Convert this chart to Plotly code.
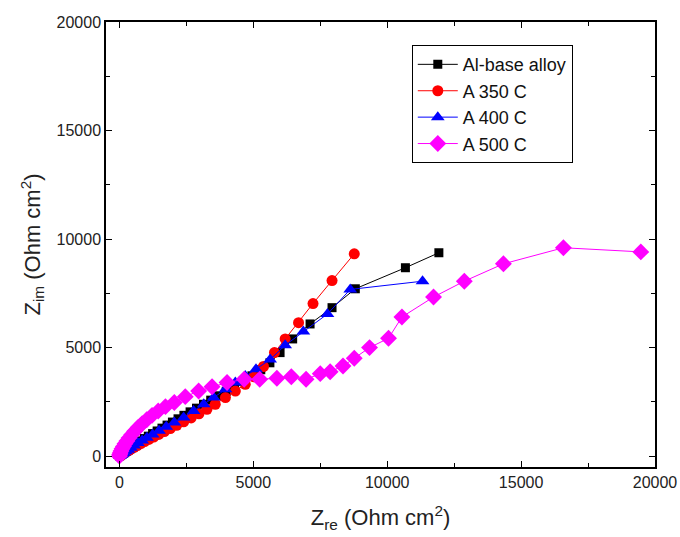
import plotly.graph_objects as go

# Al-base alloy
al_x = [10, 40, 80, 130, 190, 260, 340, 430, 540, 660, 790, 930, 1080, 1240, 1410, 1590, 1780, 1980,
        2190, 2410, 2640, 2880, 3140, 3410, 3690, 3990, 4300, 4620, 4950, 5280, 5620, 6000, 6470, 7120,
        7940, 8810, 10680, 11930]
al_y = [10, 30, 70, 120, 180, 250, 330, 410, 500, 600, 700, 810, 920, 1040, 1160, 1290, 1430, 1570,
        1720, 1880, 2040, 2210, 2390, 2580, 2780, 2990, 3210, 3450, 3700, 3980, 4300, 4770, 5400, 6090,
        6840, 7710, 8680, 9370]

# A 350 C
r_x = [30, 60, 100, 150, 210, 280, 360, 450, 550, 670, 800, 940, 1100, 1280, 1470, 1680, 1900, 2140,
       2400, 2680, 2970, 3270, 3580, 3960, 4330, 4700, 5010, 5380, 5790, 6190, 6690, 7230, 7940, 8770]
r_y = [20, 40, 70, 110, 160, 210, 270, 340, 410, 490, 580, 670, 770, 880, 1000, 1130, 1270, 1420,
       1580, 1760, 1950, 2160, 2390, 2700, 3000, 3310, 3660, 4130, 4770, 5400, 6150, 7030, 8090, 9320]

# A 400 C
b_x = [20, 60, 110, 170, 240, 330, 430, 550, 690, 850, 1030, 1240, 1480, 1750, 2050, 2400, 2770, 3150,
       3520, 3960, 4330, 4700, 5100, 5630, 6190, 6870, 7770, 8620, 11320]
b_y = [10, 50, 90, 150, 220, 300, 390, 490, 600, 720, 850, 1000, 1170, 1350, 1550, 1780, 2080, 2390,
       2700, 3080, 3390, 3690, 4000, 4450, 5110, 5740, 6550, 7680, 8060]

# A 500 C
m_x = [0, 10, 30, 60, 100, 150, 210, 280, 360, 460, 570, 700, 850, 1020, 1220, 1450, 1720, 2050, 2460,
       2960, 3460, 4020, 4660, 5240, 5880, 6420, 6970, 7500, 7870, 8350, 8770, 9340, 10050, 10550,
       11730, 12880, 14340, 16580, 19470]
m_y = [0, 70, 150, 240, 340, 450, 570, 700, 840, 990, 1150, 1320, 1500, 1680, 1880, 2080, 2280, 2470,
       2740, 3000, 3200, 3390, 3540, 3540, 3590, 3660, 3540, 3800, 3890, 4150, 4510, 5000, 5430, 6410,
       7330, 8060, 8860, 9600, 9410]

FONT = "Liberation Sans, Arial, sans-serif"

fig = go.Figure()
fig.add_trace(go.Scatter(x=al_x, y=al_y, name="Al-base alloy", mode="lines+markers",
                         line=dict(color="black", width=1),
                         marker=dict(symbol="square", size=9, color="black")))
fig.add_trace(go.Scatter(x=r_x, y=r_y, name="A 350 C", mode="lines+markers",
                         line=dict(color="red", width=1),
                         marker=dict(symbol="circle", size=11, color="red")))
fig.add_trace(go.Scatter(x=b_x, y=b_y, name="A 400 C", mode="lines+markers",
                         line=dict(color="blue", width=1),
                         marker=dict(symbol="triangle-up", size=12, color="blue")))
fig.add_trace(go.Scatter(x=m_x, y=m_y, name="A 500 C", mode="lines+markers",
                         line=dict(color="magenta", width=1),
                         marker=dict(symbol="diamond", size=13, color="magenta")))

axis_common = dict(
    showline=True, linecolor="black", linewidth=1.5, mirror="allticks",
    ticks="inside", ticklen=6, tickwidth=1.2, tickcolor="black",
    showgrid=False, zeroline=False, automargin=False,
    tickfont=dict(family=FONT, size=16, color="#222"),
    tickformat="d",
    minor=dict(ticks="inside", ticklen=4, tickwidth=1, tickcolor="black", dtick=2500),
    dtick=5000, tick0=0,
)

fig.update_xaxes(range=[-500, 20000],
                 title=dict(text="Z<sub>re</sub> (Ohm cm<sup>2</sup>)",
                            font=dict(family=FONT, size=22, color="#222"), standoff=20),
                 **axis_common)
fig.update_yaxes(range=[-500, 20000],
                 title=dict(text="Z<sub>im</sub> (Ohm cm<sup>2</sup>)",
                            font=dict(family=FONT, size=22, color="#222"), standoff=10),
                 **axis_common)

fig.update_layout(
    width=680, height=537,
    margin=dict(l=106, r=25, t=22, b=70),
    paper_bgcolor="white", plot_bgcolor="white",
    showlegend=True,
    legend=dict(x=0.557, y=0.948, xanchor="left", yanchor="top",
                bordercolor="black", borderwidth=1, bgcolor="white",
                font=dict(family=FONT, size=18, color="#111"),
                tracegroupgap=0, itemwidth=40),
)

fig.write_html("out.html")
